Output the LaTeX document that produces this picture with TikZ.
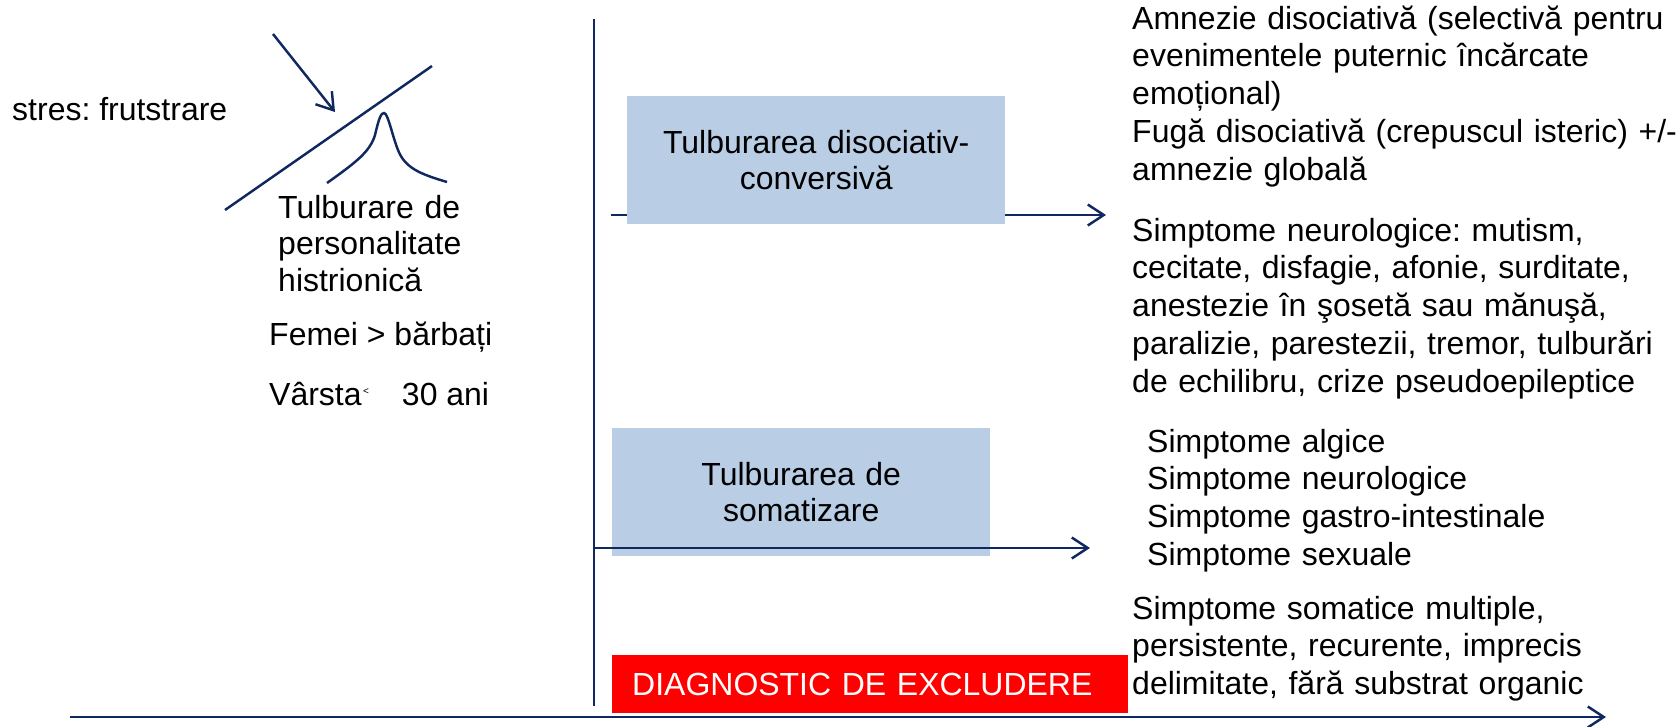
\documentclass[tikz,border=0pt]{standalone}
\usepackage{fontspec}
\setmainfont{Liberation Sans}
\usetikzlibrary{positioning,calc,arrows.meta}
\frenchspacing
\definecolor{lineblue}{RGB}{16,40,96}
\definecolor{boxblue}{RGB}{185,205,229}
\definecolor{boxred}{RGB}{255,0,0}
\newcommand{\myfont}{\fontsize{18.2pt}{20.4pt}\selectfont}
\newcommand{\myfontb}{\fontsize{18.2pt}{21.6pt}\selectfont}
\newcommand{\px}{0.02cm}
\newcommand{\boxw}{378*\px}
\newcommand{\boxh}{128*\px}
\newcommand{\boxtextw}{340*\px}
\newcommand{\textw}{560*\px}
\newcommand{\redw}{476*\px}
\newcommand{\redh}{58*\px}

\tikzset{
  arr/.style={-{Straight Barb[length=0.32cm,width=0.42cm]}},
  txt/.style={inner sep=0pt, anchor=base west},
  txtblock/.style={inner sep=0pt, anchor=base west, align=left, text width=\textw, font=\myfontb},
  sbox/.style={rectangle, minimum width=\boxw, minimum height=\boxh,
    text centered, inner sep=1pt, text width=\boxtextw, fill=boxblue, anchor=north west}
}

\begin{document}
\begin{tikzpicture}[x=\px, y=-\px, font=\myfont, line width=1.4pt, draw=lineblue]

  \useasboundingbox (0,0) rectangle (1678,727);

  %%%%%%%%%%%%%%%%%%%%%%%%%%%%%%%%%%%%%%%%%%%%%%%%%%%%%%%%%%%%%%%%%%%%%%%%%%%%%
  %%%%%%%%%%% left part: stress and personality
  %%%%%%%%%%%%%%%%%%%%%%%%%%%%%%%%%%%%%%%%%%%%%%%%%%%%%%%%%%%%%%%%%%%%%%%%%%%%%

  % stress
  \node [txt] (stres) at (11,120) {stres: frutstrare};

  % arrow of the stress
  \coordinate (S1) at (273,34);
  \coordinate (S2) at (335,112);
  \draw [arr, lineblue] (S1) -- (S2);

  % threshold line
  \coordinate (P1) at (225,210);
  \coordinate (P2) at (432,66);
  \draw [lineblue] (P1) -- (P2);

  % peak
  \coordinate (C1) at (327,183);
  \coordinate (C2) at (447,182);
  \draw [lineblue] (C1) .. controls (355,163) and (370,152) .. (375,135)
    .. controls (379,118) and (381,113) .. (384,113)
    .. controls (388,113) and (392,135) .. (398,150)
    .. controls (405,168) and (420,174) .. (C2);

  % personality
  \node [txtblock, font=\fontsize{18.2pt}{21pt}\selectfont] (hist) at (277,218)
    {Tulburare de\\personalitate\\histrionică};

  % women / men
  \node [txt] (sex) at (268,345) {Femei > bărbați};

  % age
  \node [txt] (age) at (268,405)
    {Vârsta\hspace{0.03cm}\raisebox{0.22cm}{\fontsize{5.7pt}{6pt}\selectfont<}\hspace{0.66cm}30 ani};

  %%%%%%%%%%%%%%%%%%%%%%%%%%%%%%%%%%%%%%%%%%%%%%%%%%%%%%%%%%%%%%%%%%%%%%%%%%%%%
  %%%%%%%%%%% middle part: the two disorders
  %%%%%%%%%%%%%%%%%%%%%%%%%%%%%%%%%%%%%%%%%%%%%%%%%%%%%%%%%%%%%%%%%%%%%%%%%%%%%

  % vertical line
  \coordinate (vtop) at (594,19);
  \coordinate (vbot) at (594,706);
  \draw [lineblue] (vtop) -- (vbot);

  % arrow behind first box
  \coordinate (a1s) at (611,215);
  \coordinate (a1e) at (1106,215);
  \draw [arr, lineblue] (a1s) -- (a1e);

  % disociativ-conversiva
  \node [sbox] (dc) at (626,95) {Tulburarea disociativ-\\conversivă};

  % somatizare
  \node [sbox] (som) at (611,427) {Tulburarea de\\somatizare};

  % arrow over second box
  \coordinate (a2e) at (1090,548);
  \draw [arr, lineblue] let
  \p1=(vtop),
  \p2=(a2e)
  in
  (\x1,\y2) -- (a2e);

  % diagnostic
  \node [rectangle,
  minimum height=\redh,
  text width=\redw,
  inner xsep=20*\px,
  inner ysep=0pt,
  align=left,
  fill=boxred,
  text=white,
  anchor=north west] (excl) at (611,654) {DIAGNOSTIC DE EXCLUDERE};

  % bottom axis
  \coordinate (b1) at (70,717);
  \coordinate (b2) at (1606,717);
  \draw [arr, lineblue] (b1) -- (b2);

  %%%%%%%%%%%%%%%%%%%%%%%%%%%%%%%%%%%%%%%%%%%%%%%%%%%%%%%%%%%%%%%%%%%%%%%%%%%%%
  %%%%%%%%%%% right part: symptoms
  %%%%%%%%%%%%%%%%%%%%%%%%%%%%%%%%%%%%%%%%%%%%%%%%%%%%%%%%%%%%%%%%%%%%%%%%%%%%%

  % amnezie / fuga
  \node [txtblock] (amn) at (1131,29)
    {Amnezie disociativă (selectivă pentru\\evenimentele puternic încărcate\\emoțional)\\Fugă disociativă (crepuscul isteric) +/-\\amnezie globală};

  % neurologice
  \node [txtblock] (neuro) at (1131,241)
    {Simptome neurologice: mutism,\\cecitate, disfagie, afonie, surditate,\\anestezie în şosetă sau mănuşă,\\paralizie, parestezii, tremor, tulburări\\de echilibru, crize pseudoepileptice};

  % somatice
  \node [txtblock] (alg) at (1146,452)
    {Simptome algice\\Simptome neurologice\\Simptome gastro-intestinale\\Simptome sexuale};

  % multiple
  \node [txtblock] (mult) at (1131,619)
    {Simptome somatice multiple,\\persistente, recurente, imprecis\\delimitate, fără substrat organic};

\end{tikzpicture}
\end{document}
